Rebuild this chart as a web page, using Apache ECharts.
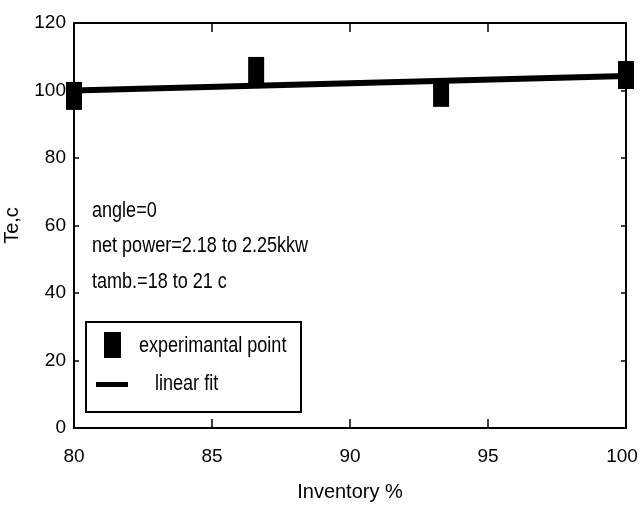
<!DOCTYPE html>
<html>
<head>
<meta charset="utf-8">
<script src="https://cdn.jsdelivr.net/npm/echarts@6/dist/echarts.min.js"></script>
<style>
html,body{margin:0;padding:0;background:#fff;overflow:hidden;}
#chart{width:640px;height:511px;}
</style>
</head>
<body>
<div id="chart"></div>
<script>
// Data
const inventory = [80, 86.6, 93.3, 100];
const teValues = [98.4, 105.8, 99.3, 104.6];
const fitX = [80, 100];
const fitY = [100.0, 104.3];
const annotations = ['angle=0', 'net power=2.18 to 2.25kkw', 'tamb.=18 to 21 c'];
const legendLabels = ['experimantal point', 'linear fit'];
const xName = 'Inventory %';
const yName = 'Te,c';
const xMin = 80, xMax = 100, xStep = 5;
const yMin = 0, yMax = 120, yStep = 20;

const FONT = "'Liberation Sans', Arial, Helvetica, sans-serif";
const NARROW = 0.82;
const chart = echarts.init(document.getElementById('chart'));

const scatterData = inventory.map((x, i) => [x, teValues[i]]);
const fitData = fitX.map((x, i) => [x, fitY[i]]);

const axisCommon = {
  axisLine: { show: true, onZero: false, lineStyle: { color: '#000', width: 2 } },
  splitLine: { show: false }
};

function narrowText(x, y, text, z) {
  return {
    type: 'text', x: x, y: y, scaleX: NARROW, z: z || 5,
    style: { text: text, fontSize: 22, fontFamily: FONT, fill: '#000', textVerticalAlign: 'middle', verticalAlign: 'middle' }
  };
}

chart.setOption({
  backgroundColor: '#fff',
  animation: false,
  textStyle: { fontFamily: FONT },
  grid: { left: 74, right: 14, top: 23, bottom: 83, containLabel: false, outerBoundsMode: 'none' },
  xAxis: [
    Object.assign({}, axisCommon, {
      type: 'value', min: xMin, max: xMax, interval: xStep, position: 'bottom',
      axisTick: { show: true, inside: true, length: 9, lineStyle: { color: '#000', width: 1.5 } },
      axisLabel: {
        color: '#000', fontSize: 19, fontFamily: FONT, margin: 19,
        formatter: function (v) { return v === xMax ? '{m|' + v + '}' : String(v); },
        rich: { m: { color: '#000', fontSize: 19, fontFamily: FONT, padding: [0, 8, 0, 0] } }
      },
      name: xName, nameLocation: 'middle', nameGap: 54,
      nameTextStyle: { color: '#000', fontSize: 20, fontFamily: FONT }
    }),
    Object.assign({}, axisCommon, {
      type: 'value', min: xMin, max: xMax, interval: xStep, position: 'top',
      axisTick: { show: true, inside: true, length: 9, lineStyle: { color: '#000', width: 1.5 } },
      axisLabel: { show: false }
    })
  ],
  yAxis: [
    Object.assign({}, axisCommon, {
      type: 'value', min: yMin, max: yMax, interval: yStep, position: 'left',
      axisTick: { show: true, inside: true, length: 5, lineStyle: { color: '#000', width: 1.5 } },
      axisLabel: { color: '#000', fontSize: 19, fontFamily: FONT, margin: 8 },
      name: yName, nameLocation: 'middle', nameGap: 52, nameRotate: 90,
      nameTextStyle: { color: '#000', fontSize: 20, fontFamily: FONT }
    }),
    Object.assign({}, axisCommon, {
      type: 'value', min: yMin, max: yMax, interval: yStep, position: 'right',
      axisTick: { show: true, inside: true, length: 5, lineStyle: { color: '#000', width: 1.5 } },
      axisLabel: { show: false }
    })
  ],
  series: [
    {
      type: 'line', name: legendLabels[1], data: fitData,
      showSymbol: false, symbol: 'none', z: 2,
      lineStyle: { color: '#000', width: 6 }
    },
    {
      type: 'scatter', name: legendLabels[0], data: scatterData,
      symbol: 'rect', symbolSize: [16, 28], z: 3,
      itemStyle: { color: '#000', opacity: 1 }
    }
  ],
  graphic: [
    narrowText(92, 211, annotations[0]),
    narrowText(92, 246, annotations[1]),
    narrowText(92, 282, annotations[2]),
    { type: 'rect', x: 86, y: 322, shape: { x: 0, y: 0, width: 215, height: 90 }, style: { fill: '#fff', stroke: '#000', lineWidth: 2 }, z: 10 },
    { type: 'rect', x: 104, y: 332, shape: { x: 0, y: 0, width: 17, height: 26 }, style: { fill: '#000' }, z: 11 },
    narrowText(139, 346, legendLabels[0], 11),
    { type: 'rect', x: 96, y: 382, shape: { x: 0, y: 0, width: 32, height: 5 }, style: { fill: '#000' }, z: 11 },
    narrowText(155, 384, legendLabels[1], 11)
  ]
});
</script>
</body>
</html>
